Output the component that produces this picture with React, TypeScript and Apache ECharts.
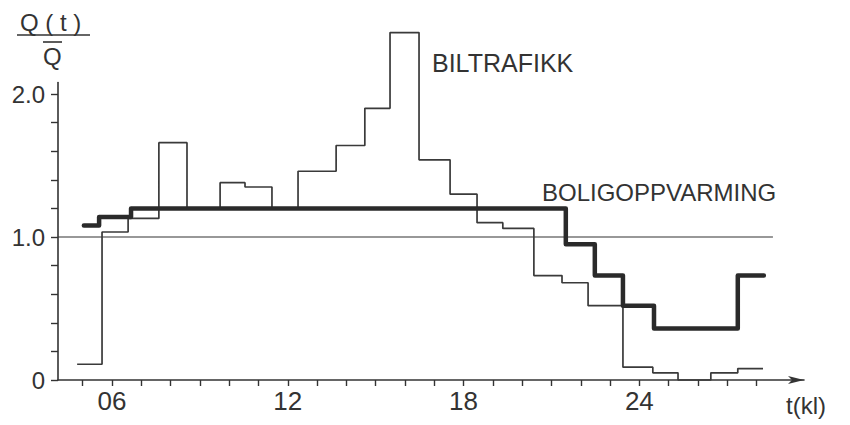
import React, { useEffect, useRef } from "react";
import * as echarts from "echarts";

// Hours (x) where each step of the traffic curve starts; the last entry is where it ends.
const bilEdges = [4.81, 5.66, 6.55, 7.6, 8.56, 9.69, 10.54, 11.46, 12.35, 13.65, 14.63, 15.49, 16.48, 17.54, 18.46, 19.34, 20.4, 21.36, 22.25, 23.44, 24.46, 25.32, 26.44, 27.36, 28.22];
const bilValues = [0.11, 1.035, 1.13, 1.66, 1.2, 1.38, 1.35, 1.2, 1.46, 1.64, 1.9, 2.43, 1.54, 1.3, 1.1, 1.06, 0.73, 0.68, 0.52, 0.09, 0.05, 0.0, 0.05, 0.08];

const heatEdges = [5.04, 5.56, 6.65, 21.49, 22.48, 23.44, 24.5, 27.36, 28.25];
const heatValues = [1.08, 1.14, 1.2, 0.95, 0.73, 0.52, 0.36, 0.73];

const referenceLevel = 1.0;
const referenceEnd = 28.56;

const xMin = 4.157;
const xMax = 29.62;
const yMin = 0;
const yMax = 2.08;

const xTickHours = [5, 6, 7, 8, 9, 10, 11, 12, 13, 14, 15, 16, 17, 18, 19, 20, 21, 22, 23, 24, 25, 26, 27, 28];
const xLabelHours = [6, 12, 18, 24];
const yTickValues = [0, 0.2, 0.4, 0.6, 0.8, 1.0, 1.2, 1.4, 1.6, 1.8, 2.0];
const yLabelValues = [0, 1, 2];

const labelBil = "BILTRAFIKK";
const labelHeat = "BOLIGOPPVARMING";
const xName = "t(kl)";
const yNameTop = "Q ( t )";
const yNameBottom = "Q";

const INK = "#333333";
const FONT = "'Liberation Sans', 'DejaVu Sans', Arial, sans-serif";

function stepData(edges: number[], values: number[]): number[][] {
  const d = values.map((v, i) => [edges[i], v]);
  d.push([edges[edges.length - 1], values[values.length - 1]]);
  return d;
}

export default function App() {
  const ref = useRef<HTMLDivElement>(null);

  useEffect(() => {
    if (!ref.current) return;
    const chart = echarts.init(ref.current, null, { renderer: "svg" });

    const option: any = {
      animation: false,
      backgroundColor: "#ffffff",
      grid: { left: 58, right: 46, top: 82.6, bottom: 45, containLabel: false },
      xAxis: {
        type: "value",
        min: xMin,
        max: xMax,
        splitLine: { show: false },
        axisLine: {
          show: true,
          lineStyle: { color: INK, width: 1.6 },
          symbol: ["none", "arrow"],
          symbolSize: [6, 16],
          symbolOffset: [0, 0],
        },
        axisTick: {
          show: true,
          length: 6,
          lineStyle: { color: INK, width: 1.4 },
          customValues: xTickHours,
        },
        axisLabel: {
          show: true,
          customValues: xLabelHours,
          margin: 8,
          color: INK,
          fontFamily: FONT,
          fontSize: 26,
          formatter: (v: number) => (v < 10 ? "0" + v : String(v)),
        },
      },
      yAxis: {
        type: "value",
        min: yMin,
        max: yMax,
        splitLine: { show: false },
        axisLine: { show: true, lineStyle: { color: INK, width: 1.6 } },
        axisTick: {
          show: true,
          length: 7,
          lineStyle: { color: INK, width: 1.4 },
          customValues: yTickValues,
        },
        axisLabel: {
          show: true,
          customValues: yLabelValues,
          margin: 13,
          color: INK,
          fontFamily: FONT,
          fontSize: 24,
          formatter: (v: number) => (v === 0 ? "0" : v.toFixed(1)),
        },
      },
      series: [
        {
          type: "line",
          data: [
            [xMin, referenceLevel],
            [referenceEnd, referenceLevel],
          ],
          symbol: "none",
          lineStyle: { color: INK, width: 1.1 },
          silent: true,
          z: 1,
        },
        {
          type: "line",
          name: labelBil,
          step: "end",
          data: stepData(bilEdges, bilValues),
          symbol: "none",
          clip: false,
          lineStyle: { color: "#3a3a3a", width: 1.7 },
          z: 2,
        },
        {
          type: "line",
          name: labelHeat,
          step: "end",
          data: stepData(heatEdges, heatValues),
          symbol: "none",
          clip: false,
          lineStyle: { color: "#2a2a2a", width: 4.5, cap: "round", join: "round" },
          z: 3,
        },
      ],
      graphic: [
        {
          type: "text",
          left: 432,
          top: 50,
          style: { text: labelBil, fill: INK, fontFamily: FONT, fontSize: 25 },
        },
        {
          type: "text",
          left: 542,
          top: 180,
          style: { text: labelHeat, fill: INK, fontFamily: FONT, fontSize: 24 },
        },
        {
          type: "text",
          left: 786,
          top: 393,
          style: { text: xName, fill: INK, fontFamily: FONT, fontSize: 24 },
        },
        {
          type: "text",
          left: 20,
          top: 10,
          style: { text: yNameTop, fill: INK, fontFamily: FONT, fontSize: 24 },
        },
        {
          type: "line",
          shape: { x1: 17, y1: 35, x2: 90, y2: 35 },
          style: { stroke: INK, lineWidth: 1.6 },
        },
        {
          type: "text",
          left: 43,
          top: 44,
          style: { text: yNameBottom, fill: INK, fontFamily: FONT, fontSize: 24 },
        },
        {
          type: "line",
          shape: { x1: 43, y1: 42, x2: 62, y2: 42 },
          style: { stroke: INK, lineWidth: 1.6 },
        },
      ],
    };

    chart.setOption(option);
    return () => {
      chart.dispose();
    };
  }, []);

  return (
    <div
      ref={ref}
      style={{ position: "absolute", left: 0, top: 0, width: 850, height: 425 }}
    />
  );
}
